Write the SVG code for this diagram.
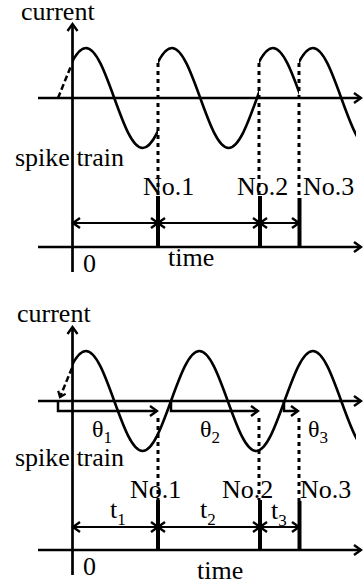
<svg xmlns="http://www.w3.org/2000/svg" xmlns:xlink="http://www.w3.org/1999/xlink" width="363" height="587" viewBox="0 0 363 587">
<style>
.lbl{font-family:"Liberation Serif","Times New Roman",serif;font-size:26px;fill:#000}
.sub{font-family:"Liberation Serif","Times New Roman",serif;font-size:17px;fill:#000}
.th{font-family:"Liberation Serif","Times New Roman",serif;font-size:24px;fill:#000}
.axis{stroke:#000;stroke-width:2.7;fill:none}
.spike{stroke:#000;stroke-width:4;fill:none}
.dot{stroke:#000;stroke-width:3;stroke-dasharray:4 4;fill:none}
.dash{stroke:#000;stroke-width:2.5;stroke-dasharray:6 3;fill:none}
.int{stroke:#000;stroke-width:2;fill:none}
.ph{stroke:#000;stroke-width:2.5;fill:none}
</style>
<defs>
<marker id="ah" markerUnits="userSpaceOnUse" viewBox="-9 -7 11 14" markerWidth="11" markerHeight="14" refX="0" refY="0" orient="auto-start-reverse">
<path d="M-7,-5 L0,0 L-7,5" fill="none" stroke="#000" stroke-width="2.4"/>
</marker>
<marker id="ahs" markerUnits="userSpaceOnUse" viewBox="-8 -6 10 12" markerWidth="10" markerHeight="12" refX="0" refY="0" orient="auto">
<path d="M-5,-4 L0,0 L-5,4" fill="none" stroke="#000" stroke-width="2.2"/>
</marker>
<path id="sine" fill="none" stroke="#000" stroke-width="2.6" d="M0,0 c9.253,-25.615 18.106,-50 28.375,-50 c10.269,0 19.122,24.385 28.375,50 c9.253,25.615 18.106,50 28.375,50 c10.269,0 19.122,-24.385 28.375,-50 c9.253,-25.615 18.106,-50 28.375,-50 c10.269,0 19.122,24.385 28.375,50 c9.253,25.615 18.106,50 28.375,50 c10.269,0 19.122,-24.385 28.375,-50 c9.253,-25.615 18.106,-50 28.375,-50 c10.269,0 19.122,24.385 28.375,50 c9.253,25.615 18.106,50 28.375,50 c10.269,0 19.122,-24.385 28.375,-50"/>
<clipPath id="c1"><rect x="72" y="0" width="86" height="200"/></clipPath>
<clipPath id="c2"><rect x="158" y="0" width="101" height="200"/></clipPath>
<clipPath id="c3"><rect x="259" y="0" width="40" height="200"/></clipPath>
<clipPath id="c4"><rect x="299" y="0" width="57" height="200"/></clipPath>
<clipPath id="c5"><rect x="72" y="300" width="284" height="200"/></clipPath>
</defs>

<g id="top-panel">
<g id="top-axes">
<line class="axis" x1="72.5" y1="272" x2="72.5" y2="24" marker-end="url(#ah)"/>
<line class="axis" x1="38" y1="98" x2="361" y2="98" marker-end="url(#ah)"/>
<line class="axis" x1="38" y1="247" x2="361" y2="247" marker-end="url(#ah)"/>
</g>
<g id="top-wave">
<g clip-path="url(#c1)"><use xlink:href="#sine" transform="translate(57.5,98)"/></g>
<g clip-path="url(#c2)"><use xlink:href="#sine" transform="translate(143.5,98)"/></g>
<g clip-path="url(#c3)"><use xlink:href="#sine" transform="translate(244.5,98)"/></g>
<g clip-path="url(#c4)"><use xlink:href="#sine" transform="translate(284.5,98)"/></g>
<line class="dash" x1="58" y1="98" x2="71" y2="66"/>
</g>
<g id="top-connectors">
<line class="dot" x1="158" y1="63" x2="158" y2="196"/>
<line class="dot" x1="259" y1="63" x2="259" y2="196"/>
<line class="dot" x1="299" y1="63" x2="299" y2="198"/>
<line class="spike" x1="158" y1="196" x2="158" y2="247"/>
<line class="spike" x1="260" y1="196" x2="260" y2="247"/>
<line class="spike" x1="299.5" y1="198" x2="299.5" y2="247"/>
<line class="int" x1="73" y1="223" x2="158" y2="223" marker-start="url(#ah)" marker-end="url(#ah)"/>
<line class="int" x1="158" y1="223" x2="260" y2="223" marker-start="url(#ah)" marker-end="url(#ah)"/>
<line class="int" x1="260" y1="223" x2="299" y2="223" marker-start="url(#ah)" marker-end="url(#ah)"/>
</g>
<g id="top-labels">
<text class="lbl" x="21" y="20">current</text>
<text class="lbl" x="15" y="166">spike train</text>
<text class="lbl" x="143" y="195">No.1</text>
<text class="lbl" x="237" y="195">No.2</text>
<text class="lbl" x="303" y="195">No.3</text>
<text class="lbl" x="83" y="272">0</text>
<text class="lbl" x="168" y="266">time</text>
</g>
</g>

<g id="bottom-panel">
<g id="bottom-axes">
<line class="axis" x1="72.5" y1="575" x2="72.5" y2="327" marker-end="url(#ah)"/>
<line class="axis" x1="38" y1="401" x2="361" y2="401" marker-end="url(#ah)"/>
<line class="axis" x1="38" y1="550" x2="361" y2="550" marker-end="url(#ah)"/>
</g>
<g id="bottom-wave">
<g clip-path="url(#c5)"><use xlink:href="#sine" transform="translate(57.5,401)"/></g>
<line class="dash" x1="72" y1="368" x2="60" y2="397" marker-end="url(#ahs)"/>
</g>
<g id="bottom-connectors">
<polyline class="ph" points="58,401 58,411 157,411" marker-end="url(#ah)"/>
<polyline class="ph" points="171,401 171,411 258,411" marker-end="url(#ah)"/>
<polyline class="ph" points="284,401 284,411 298,411" marker-end="url(#ah)"/>
<line class="dot" x1="158" y1="418" x2="158" y2="500"/>
<line class="dot" x1="259" y1="418" x2="259" y2="500"/>
<line class="dot" x1="299" y1="418" x2="299" y2="501"/>
<line class="spike" x1="158" y1="500" x2="158" y2="550"/>
<line class="spike" x1="260" y1="500" x2="260" y2="550"/>
<line class="spike" x1="299.5" y1="501" x2="299.5" y2="550"/>
<line class="int" x1="73" y1="527" x2="158" y2="527" marker-start="url(#ah)" marker-end="url(#ah)"/>
<line class="int" x1="158" y1="527" x2="260" y2="527" marker-start="url(#ah)" marker-end="url(#ah)"/>
<line class="int" x1="260" y1="527" x2="299" y2="527" marker-start="url(#ah)" marker-end="url(#ah)"/>
</g>
<g id="bottom-labels">
<text class="lbl" x="17" y="322">current</text>
<text class="th" x="92" y="437">θ<tspan class="sub" dy="6">1</tspan></text>
<text class="th" x="200" y="437">θ<tspan class="sub" dy="6">2</tspan></text>
<text class="th" x="308" y="437">θ<tspan class="sub" dy="6">3</tspan></text>
<text class="lbl" x="15" y="466">spike train</text>
<text class="lbl" x="130" y="498">No.1</text>
<text class="lbl" x="222" y="498">No.2</text>
<text class="lbl" x="300" y="498">No.3</text>
<text class="lbl" x="110" y="518">t<tspan class="sub" dy="7">1</tspan></text>
<text class="lbl" x="200" y="518">t<tspan class="sub" dy="7">2</tspan></text>
<text class="lbl" x="271" y="519">t<tspan class="sub" dy="7">3</tspan></text>
<text class="lbl" x="83" y="575">0</text>
<text class="lbl" x="197" y="579">time</text>
</g>
</g>
</svg>
